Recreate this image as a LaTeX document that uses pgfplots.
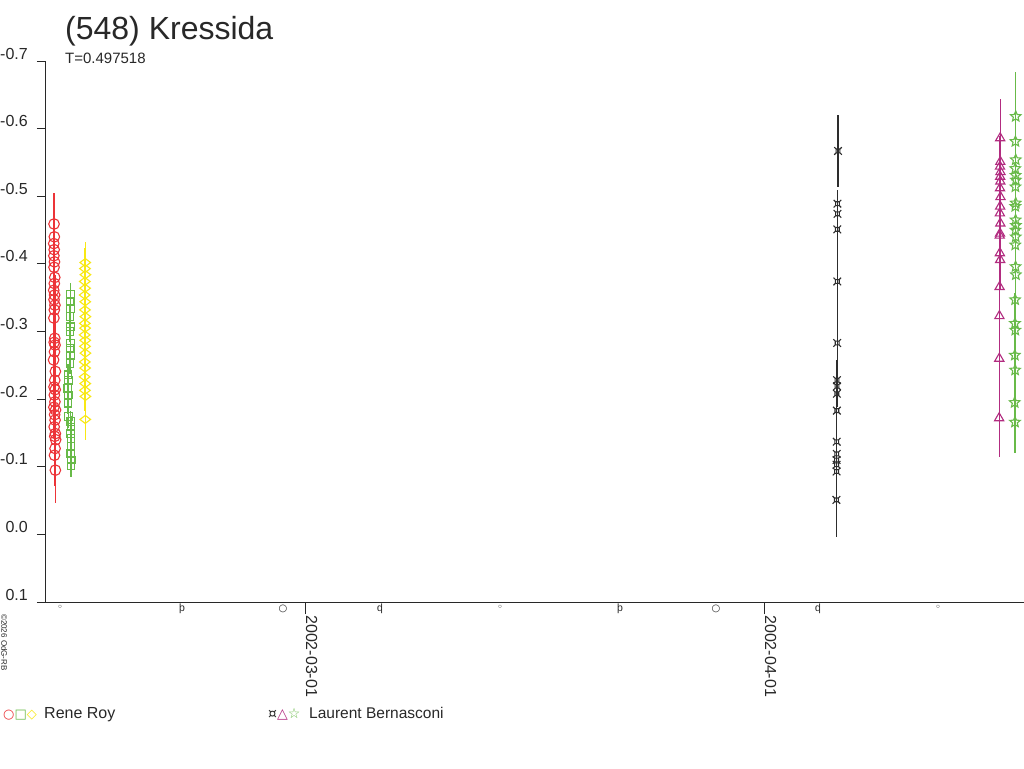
\documentclass[border=0pt]{standalone}
\usepackage{pgfplots}
\usepackage{pgfplotstable}
\pgfplotsset{compat=1.18}
\usepackage{fontspec}
\setmainfont{Liberation Sans}
\newfontfamily\dejavu{DejaVu Sans}
\usepackage{graphicx}

\definecolor{cred}{RGB}{236,52,56}
\definecolor{cgreen}{RGB}{104,186,72}
\definecolor{cyellow}{RGB}{248,232,20}
\definecolor{cblack}{RGB}{45,45,45}
\definecolor{cmag}{RGB}{178,44,128}
\definecolor{axgray}{RGB}{40,40,40}

\pgfdeclareplotmark{curr}{%
  \pgfpathrectangle{\pgfqpoint{-0.5\pgfplotmarksize}{-0.5\pgfplotmarksize}}{\pgfqpoint{1.0\pgfplotmarksize}{1.0\pgfplotmarksize}}%
  \pgfpathmoveto{\pgfqpoint{-\pgfplotmarksize}{-\pgfplotmarksize}}\pgfpathlineto{\pgfqpoint{-0.5\pgfplotmarksize}{-0.5\pgfplotmarksize}}%
  \pgfpathmoveto{\pgfqpoint{\pgfplotmarksize}{-\pgfplotmarksize}}\pgfpathlineto{\pgfqpoint{0.5\pgfplotmarksize}{-0.5\pgfplotmarksize}}%
  \pgfpathmoveto{\pgfqpoint{-\pgfplotmarksize}{\pgfplotmarksize}}\pgfpathlineto{\pgfqpoint{-0.5\pgfplotmarksize}{0.5\pgfplotmarksize}}%
  \pgfpathmoveto{\pgfqpoint{\pgfplotmarksize}{\pgfplotmarksize}}\pgfpathlineto{\pgfqpoint{0.5\pgfplotmarksize}{0.5\pgfplotmarksize}}%
  \pgfusepathqstroke}
\pgfdeclareplotmark{ostar}{%
  \pgfpathmoveto{\pgfqpoint{0pt}{\pgfplotmarksize}}%
  \pgfpathlineto{\pgfqpoint{0.2645\pgfplotmarksize}{0.364\pgfplotmarksize}}%
  \pgfpathlineto{\pgfqpoint{0.951\pgfplotmarksize}{0.309\pgfplotmarksize}}%
  \pgfpathlineto{\pgfqpoint{0.428\pgfplotmarksize}{-0.139\pgfplotmarksize}}%
  \pgfpathlineto{\pgfqpoint{0.588\pgfplotmarksize}{-0.809\pgfplotmarksize}}%
  \pgfpathlineto{\pgfqpoint{0pt}{-0.45\pgfplotmarksize}}%
  \pgfpathlineto{\pgfqpoint{-0.588\pgfplotmarksize}{-0.809\pgfplotmarksize}}%
  \pgfpathlineto{\pgfqpoint{-0.428\pgfplotmarksize}{-0.139\pgfplotmarksize}}%
  \pgfpathlineto{\pgfqpoint{-0.951\pgfplotmarksize}{0.309\pgfplotmarksize}}%
  \pgfpathlineto{\pgfqpoint{-0.2645\pgfplotmarksize}{0.364\pgfplotmarksize}}%
  \pgfpathclose\pgfusepathqstroke}

% Rene Roy, red circles
\pgfplotstableread{
x y e
-16.95 -0.459 0.046
-16.93 -0.440 0.045
-16.97 -0.430 0.045
-16.94 -0.421 0.045
-16.96 -0.412 0.045
-16.92 -0.403 0.045
-16.95 -0.395 0.045
-16.90 -0.380 0.045
-16.93 -0.371 0.045
-16.97 -0.361 0.045
-16.91 -0.354 0.045
-16.95 -0.347 0.045
-16.89 -0.339 0.045
-16.93 -0.332 0.045
-16.96 -0.320 0.045
-16.90 -0.290 0.045
-16.94 -0.284 0.045
-16.88 -0.280 0.045
-16.92 -0.270 0.045
-16.98 -0.258 0.045
-16.86 -0.241 0.045
-16.90 -0.228 0.045
-16.95 -0.218 0.045
-16.87 -0.214 0.045
-16.93 -0.206 0.045
-16.89 -0.196 0.045
-16.96 -0.188 0.045
-16.85 -0.184 0.045
-16.91 -0.177 0.045
-16.88 -0.169 0.045
-16.94 -0.159 0.045
-16.86 -0.149 0.045
-16.90 -0.145 0.045
-16.84 -0.140 0.045
-16.88 -0.127 0.045
-16.92 -0.117 0.045
-16.86 -0.095 0.048
}\tred
% Rene Roy, green squares
\pgfplotstableread{
x y e
-15.84 -0.355 0.016
-15.86 -0.344 0.016
-15.83 -0.334 0.016
-15.87 -0.322 0.016
-15.85 -0.307 0.016
-15.88 -0.300 0.016
-15.84 -0.283 0.016
-15.86 -0.275 0.016
-15.83 -0.265 0.016
-15.87 -0.253 0.016
-16.00 -0.236 0.016
-15.98 -0.228 0.016
-16.02 -0.216 0.016
-15.99 -0.206 0.016
-16.01 -0.194 0.016
-15.97 -0.174 0.016
-15.82 -0.167 0.016
-15.80 -0.159 0.016
-15.83 -0.149 0.016
-15.81 -0.142 0.016
-15.80 -0.130 0.016
-15.82 -0.120 0.016
-15.79 -0.110 0.016
-15.81 -0.101 0.016
}\tgreen
% Rene Roy, yellow diamonds
\pgfplotstableread{
x y e
-14.84 -0.402 0.030
-14.86 -0.393 0.030
-14.83 -0.384 0.030
-14.87 -0.374 0.030
-14.85 -0.364 0.030
-14.88 -0.354 0.030
-14.84 -0.344 0.030
-14.86 -0.332 0.030
-14.83 -0.322 0.030
-14.87 -0.312 0.030
-14.85 -0.305 0.030
-14.88 -0.295 0.030
-14.84 -0.287 0.030
-14.86 -0.278 0.030
-14.83 -0.268 0.030
-14.87 -0.255 0.030
-14.85 -0.246 0.030
-14.88 -0.233 0.030
-14.84 -0.223 0.030
-14.86 -0.213 0.030
-14.83 -0.204 0.030
-14.84 -0.170 0.030
}\tyellow
% Laurent Bernasconi, black
\pgfplotstableread{
x y e
36.00 -0.567 0.053
35.96 -0.489 0.020
35.96 -0.474 0.028
35.95 -0.451 0.032
35.95 -0.374 0.050
35.94 -0.283 0.050
35.93 -0.228 0.030
35.93 -0.219 0.030
35.92 -0.208 0.030
35.92 -0.183 0.030
35.91 -0.137 0.030
35.91 -0.119 0.030
35.90 -0.110 0.030
35.90 -0.103 0.030
35.90 -0.093 0.030
35.89 -0.051 0.055
}\tblack
% Laurent Bernasconi, magenta triangles
\pgfplotstableread{
x y e
46.95 -0.586 0.058
46.96 -0.551 0.045
46.94 -0.544 0.045
46.97 -0.536 0.045
46.95 -0.529 0.045
46.96 -0.522 0.045
46.94 -0.512 0.045
46.97 -0.499 0.045
46.95 -0.485 0.045
46.93 -0.475 0.045
46.96 -0.460 0.045
46.94 -0.445 0.045
46.92 -0.442 0.045
46.93 -0.416 0.045
46.95 -0.406 0.045
46.91 -0.366 0.058
46.90 -0.323 0.058
46.89 -0.260 0.058
46.88 -0.172 0.058
}\tmag
% Laurent Bernasconi, green stars
\pgfplotstableread{
x y e
48.00 -0.618 0.066
47.98 -0.581 0.045
48.00 -0.554 0.045
47.97 -0.541 0.045
47.99 -0.531 0.045
48.01 -0.524 0.045
47.98 -0.514 0.045
48.00 -0.490 0.045
47.97 -0.485 0.045
47.99 -0.465 0.045
48.01 -0.457 0.045
47.98 -0.450 0.045
48.00 -0.440 0.045
47.97 -0.428 0.045
47.99 -0.396 0.045
48.01 -0.384 0.045
47.96 -0.347 0.045
47.95 -0.312 0.045
47.97 -0.302 0.045
47.94 -0.265 0.045
47.96 -0.243 0.045
47.93 -0.195 0.045
47.95 -0.166 0.045
}\tstar

\newcommand\datelab[2]{\node[rotate=-90, anchor=base west, inner sep=0pt, text=axgray, font=\fontsize{16}{16}\selectfont] at ([xshift=1pt,yshift=-13pt]axis cs:#1,0.1) {#2};}
\newcommand\newmoon[1]{\node[anchor=north, inner sep=0pt, text=axgray, font=\dejavu\fontsize{10}{10}\selectfont] at ([yshift=-3pt]axis cs:#1,0.1) {◦};}
\newcommand\fullmoon[1]{\node[anchor=north, inner sep=0pt, text=axgray, font=\dejavu\fontsize{10}{10}\selectfont] at ([yshift=-3pt]axis cs:#1,0.1) {○};}
\newcommand\firstq[1]{\node[anchor=north, inner sep=0pt, text=axgray, font=\fontsize{10.5}{10.5}\selectfont] at ([yshift=-2pt]axis cs:#1,0.1) {þ};}
\newcommand\lastq[1]{\node[anchor=north, inner sep=0pt, text=axgray, font=\fontsize{10.5}{10.5}\selectfont] at ([yshift=-2pt]axis cs:#1,0.1) {\reflectbox{þ}};}

\begin{document}
\begin{tikzpicture}[x=1pt,y=1pt]
\path[use as bounding box, fill=white] (0,0) rectangle (1024,768);
\begin{axis}[
  at={(45pt,166pt)}, anchor=south west,
  scale only axis, width=979pt, height=541pt,
  xmin=-17.56, xmax=48.56, ymin=-0.7, ymax=0.1, y dir=reverse,
  axis x line=bottom, axis y line=left,
  axis line style={-, draw=axgray, line width=1pt},
  tick style={draw=axgray, line width=1pt},
  tick align=outside, major tick length=8pt,
  xtick=\empty,
  extra x ticks={0,31},
  extra x tick style={major tick length=12pt, xticklabels={}},
  ytick={-0.7,-0.6,-0.5,-0.4,-0.3,-0.2,-0.1,0.0,0.1},
  yticklabels={-0.7,-0.6,-0.5,-0.4,-0.3,-0.2,-0.1,0.0,0.1},
  yticklabel style={font=\fontsize{16}{16}\selectfont, text=axgray, anchor=base east, inner sep=0pt, xshift=-9pt, yshift=2pt},
  clip=false,
]
\addplot[only marks, mark=o, mark size=5.3pt, cred, line width=1.1pt,
  error bars/.cd, y dir=both, y explicit, error mark=none, error bar style={line width=1.2pt, cred}]
  table[x=x, y=y, y error=e] {\tred};
\addplot[only marks, mark=square, mark size=3.8pt, cgreen, line width=1.1pt,
  error bars/.cd, y dir=both, y explicit, error mark=none, error bar style={line width=1.2pt, cgreen}]
  table[x=x, y=y, y error=e] {\tgreen};
\addplot[only marks, mark=diamond, mark size=5.3pt, mark options={rotate=90}, cyellow, line width=1.1pt,
  error bars/.cd, y dir=both, y explicit, error mark=none, error bar style={line width=1.2pt, cyellow}]
  table[x=x, y=y, y error=e] {\tyellow};
\addplot[only marks, mark=curr, mark size=3.8pt, cblack, line width=1.1pt,
  error bars/.cd, y dir=both, y explicit, error mark=none, error bar style={line width=1.2pt, cblack}]
  table[x=x, y=y, y error=e] {\tblack};
\addplot[only marks, mark=triangle, mark size=5.3pt, cmag, line width=1.1pt,
  error bars/.cd, y dir=both, y explicit, error mark=none, error bar style={line width=1.2pt, cmag}]
  table[x=x, y=y, y error=e] {\tmag};
\addplot[only marks, mark=ostar, mark size=5.5pt, cgreen, line width=1.1pt,
  error bars/.cd, y dir=both, y explicit, error mark=none, error bar style={line width=1.2pt, cgreen}]
  table[x=x, y=y, y error=e] {\tstar};

\datelab{0}{2002-03-01}
\datelab{31}{2002-04-01}
\newmoon{-16.55}\newmoon{13.17}\newmoon{42.75}
\fullmoon{-1.49}\fullmoon{27.76}
\firstq{-8.31}\firstq{21.28}
\lastq{5.07}\lastq{34.65}
\end{axis}

% titles
\node[anchor=base west, inner sep=0pt, text=axgray, font=\fontsize{32}{32}\selectfont] at (65,728) {(548) Kressida};
\node[anchor=base west, inner sep=0pt, text=axgray, font=\fontsize{15}{15}\selectfont] at (65,704) {T=0.497518};
% copyright
\node[rotate=-90, anchor=base west, inner sep=0pt, text=axgray, font=\fontsize{8}{8}\selectfont] at (1.5,154) {©2026 OdG-RB};
% legend
\node[anchor=base west, inner sep=0pt, font=\dejavu\fontsize{13}{13}\selectfont] at (3,50) {\textcolor{cred}{○}\textcolor{cgreen}{□}\textcolor{cyellow}{◇}};
\node[anchor=base west, inner sep=0pt, text=axgray, font=\fontsize{16}{16}\selectfont] at (44,50) {Rene Roy};
\node[anchor=base west, inner sep=0pt, font=\dejavu\fontsize{14}{14}\selectfont] at (268,50) {\textcolor{cblack}{¤}\textcolor{cmag}{△}\textcolor{cgreen}{☆}};
\node[anchor=base west, inner sep=0pt, text=axgray, font=\fontsize{15.5}{16}\selectfont] at (309,50) {Laurent Bernasconi};
\end{tikzpicture}
\end{document}
